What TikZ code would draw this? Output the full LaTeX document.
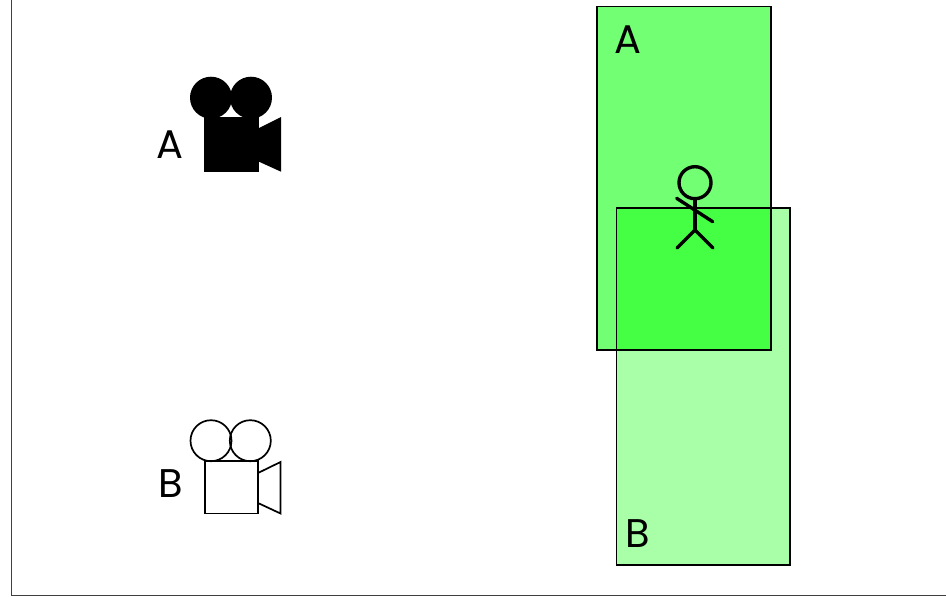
\documentclass[tikz,border=0pt]{standalone}
\usepackage{fontspec}
\setmainfont{Poppins}
\definecolor{greenA}{HTML}{73FF73}
\definecolor{greenB}{HTML}{A8FFA8}
\definecolor{greenAB}{HTML}{45FF45}
\tikzset{
  px/.style={x=1pt,y=-1pt},
  lab/.style={inner sep=0pt,font=\fontsize{40}{40}\selectfont},
  frameline/.style={draw=black!75,line width=1.1pt},
  thin outline/.style={draw=black,line width=1.7pt},
  stick/.style={draw=black,line width=3.4pt,line cap=round}
}
\begin{document}
\begin{tikzpicture}[px]
\useasboundingbox (0,0) rectangle (946,597);
% frame
\draw[frameline] (11.5,0) -- (11.5,595.5) -- (946,595.5);
% fields of view
\fill[greenA] (597,6.5) rectangle (771,350);
\fill[greenB] (616.5,208) rectangle (790,565);
\fill[greenAB] (616.5,208) rectangle (771,350);
\draw[thin outline] (597,6.5) rectangle (771,350);
\draw[thin outline] (616.5,208) rectangle (790,565);
\node[lab] (fa) at (628,40) {A};
\node[lab] (fb) at (638,534) {B};
% person
\draw[stick] (695,182.7) circle (16);
\draw[stick] (695,199) -- (695,230);
\draw[stick] (677,248) -- (695,230) -- (713,248);
\draw[stick] (676.7,198.3) -- (712.7,221.7);
% camera A
\node[lab] (ca) at (170,144.5) {A};
\fill (211,97.7) circle (21);
\fill (251,97.7) circle (21);
\fill (204,117) rectangle (259,172);
\fill (259,128) -- (281,117) -- (281,171.7) -- (259,161.7) -- cycle;
% camera B
\node[lab] (cb) at (170.5,484) {B};
\draw[thin outline] (211,440.7) circle (20.5);
\draw[thin outline] (250.3,440.7) circle (20.5);
\draw[thin outline] (205,461) rectangle (258,513.5);
\draw[thin outline] (258,473) -- (280.5,462) -- (280.5,513.5) -- (258,503);
\end{tikzpicture}
\end{document}
